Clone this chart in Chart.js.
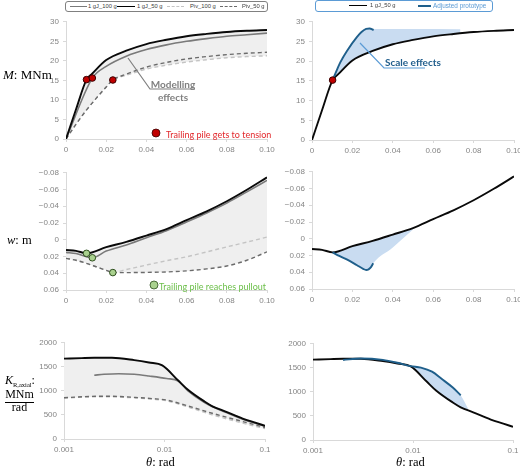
<!DOCTYPE html>
<html>
<head>
<meta charset="utf-8">
<script src="https://cdn.jsdelivr.net/npm/chart.js@4.4.1/dist/chart.umd.min.js"></script>
<style>
  body { margin: 0; width: 520px; height: 468px; overflow: hidden; background: #fff; position: relative; }
  .panel { position: absolute; }
  .t { position: absolute; white-space: nowrap; line-height: 1; }
  .serif { font-family: "Liberation Serif", "Times New Roman", serif; color: #000; }
  .lg { position: absolute; border-radius: 3px; box-sizing: border-box; background: #fff; z-index: 3; }
  .lg span { position: absolute; font-family: "Liberation Sans", Arial, sans-serif; color: #404040; top: 50%; transform: translateY(-50%); white-space: nowrap; line-height: 1; }
  .lg i { position: absolute; height: 0; top: 50%; margin-top: -1px; }
  .over { position: absolute; z-index: 4; }
</style>
</head>
<body>

<!-- legends -->
<div class="lg" style="left:65px;top:1px;width:203px;height:11px;border:1.3px solid #808080;">
  <i style="left:4px;width:17px;border-top:1.5px solid #7a7a7a"></i><span style="left:22px;font-size:5.8px">1 gJ_100 g</span>
  <i style="left:51px;width:18px;border-top:1.6px solid #000"></i><span style="left:71px;font-size:5.8px">1 gJ_50 g</span>
  <i style="left:101px;width:17px;border-top:1.5px dashed #c4c4c4"></i><span style="left:124px;font-size:5.8px">Piv_100 g</span>
  <i style="left:154px;width:17px;border-top:1.5px dashed #6b6b6b"></i><span style="left:176px;font-size:5.8px">Piv_50 g</span>
</div>
<div class="lg" style="left:315px;top:0px;width:178px;height:12px;border:1.3px solid #5b9bd5;">
  <i style="left:33px;width:18px;border-top:1.6px solid #000"></i><span style="left:54px;font-size:5.8px">1 gJ_50 g</span>
  <i style="left:102px;width:13px;border-top:2px solid #1f5f8b"></i><span style="left:117px;font-size:6.4px;color:#5b9bd5">Adjusted prototype</span>
</div>

<!-- axis titles -->
<div class="t serif over" style="left:3px;top:68px;font-size:13px"><i>M</i>: MNm</div>
<div class="t serif over" style="left:7px;top:234px;font-size:12.5px"><i>w</i>: m</div>
<div class="t serif over" style="left:5px;top:374px;font-size:12px"><i>K</i><sub style="font-size:6.5px">R,axial</sub>:</div>
<div class="t serif over" style="left:5px;top:388px;width:29px;text-align:center;font-size:12px;padding-bottom:2px;border-bottom:1px solid #000">MNm</div>
<div class="t serif over" style="left:5px;top:401px;width:29px;text-align:center;font-size:12px">rad</div>
<div class="t serif over" style="left:146px;top:456px;font-size:12.5px"><i>θ</i>: rad</div>
<div class="t serif over" style="left:396px;top:456px;font-size:12.5px"><i>θ</i>: rad</div>

<!-- annotations -->
<svg class="over" width="520" height="468" style="left:0;top:0;pointer-events:none">
  <polyline points="128,58 150,89 195,89" fill="none" stroke="#808080" stroke-width="1.2"/>
  <polyline points="360,43 384,68 425,68" fill="none" stroke="#5b9bd5" stroke-width="1.2"/>
  <circle cx="156" cy="133" r="4" fill="#c00000" stroke="#3a0000" stroke-width="0.8"/>
  <circle cx="154" cy="285" r="4" fill="#a9d18e" stroke="#2f4f1f" stroke-width="0.8"/>
</svg>
<div class="t over" style="left:173px;top:78px;transform:translateX(-50%);text-align:center;font:bold 10px Lato, sans-serif;line-height:13px;color:#7f7f7f">Modelling<br>effects</div>
<div class="t over" style="left:385px;top:56px;font:bold 10px Lato, sans-serif;color:#215e8c">Scale effects</div>
<div class="t over" style="left:166px;top:128.5px;font:9px Lato, sans-serif;color:#e2282c">Trailing pile gets to tension</div>
<div class="t over" style="left:159px;top:280.5px;font:9px Lato, sans-serif;color:#6cbf4a">Trailing pile reaches pullout</div>

<script>
// ---- tick values ----
const thetaTicks = [0, 0.02, 0.04, 0.06, 0.08, 0.1];
const thetaLogTicks = [0.001, 0.01, 0.1];
const mTicks = [0, 5, 10, 15, 20, 25, 30];
const wTicks = [-0.08, -0.06, -0.04, -0.02, 0, 0.02, 0.04, 0.06];
const kTicks = [0, 500, 1000, 1500, 2000];

// ---- M: MNm vs theta ----
const thM_50 = [0, 0.005, 0.0102, 0.013, 0.02, 0.03, 0.04, 0.05, 0.06, 0.07, 0.08, 0.09, 0.1];
const M_50 = [0, 7.6, 15.2, 16.7, 20.2, 22.6, 24.3, 25.4, 26.3, 26.9, 27.4, 27.7, 27.9];
const thM_100 = [0, 0.0131, 0.02, 0.03, 0.04, 0.05, 0.06, 0.07, 0.08, 0.09, 0.1];
const M_100 = [0, 15.6, 18.6, 21.2, 22.9, 24.1, 25.0, 25.7, 26.3, 26.7, 27.1];
const thM_piv = [0, 0.005, 0.01, 0.015, 0.02, 0.0233, 0.03, 0.04, 0.05, 0.06, 0.07, 0.08, 0.09, 0.1];
const M_piv50 = [0, 3.8, 7.3, 10.4, 13.3, 15.1, 16.6, 18.4, 19.6, 20.5, 21.1, 21.6, 21.95, 22.2];
const M_piv100 = [0, 3.8, 7.3, 10.4, 13.3, 15.1, 16.3, 17.9, 18.9, 19.7, 20.3, 20.8, 21.1, 21.3];
const thM_adj = [0.0102, 0.0125, 0.014, 0.0173, 0.0222, 0.0245, 0.0268, 0.0285, 0.0305];
const M_adj = [15.2, 18.0, 19.7, 22.6, 26.1, 27.4, 28.2, 28.3, 27.9];
const thM_edge = [0.05, 0.0735];
const M_edge = [28.15, 28.1];

// ---- w: m vs theta ----
const thW_50 = [0, 0.005, 0.0102, 0.02, 0.03, 0.04, 0.05, 0.06, 0.07, 0.08, 0.09, 0.1];
const W_50 = [0.0122, 0.0132, 0.0162, 0.0088, 0.0025, -0.005, -0.0128, -0.0235, -0.034, -0.046, -0.0597, -0.0745];
const thW_100 = [0, 0.005, 0.0131, 0.02, 0.03, 0.04, 0.05, 0.06, 0.07, 0.08, 0.09, 0.1];
const W_100 = [0.0151, 0.0165, 0.0215, 0.0135, 0.0062, -0.0025, -0.0108, -0.0212, -0.032, -0.0438, -0.0572, -0.071];
const thW_piv = [0, 0.005, 0.01, 0.015, 0.02, 0.0233, 0.03, 0.04, 0.05, 0.06, 0.07, 0.08, 0.09, 0.1];
const W_piv50 = [0.0222, 0.0245, 0.028, 0.0322, 0.0365, 0.0392, 0.0392, 0.039, 0.0384, 0.0372, 0.0348, 0.0313, 0.0245, 0.0144];
const W_piv100 = [0.0222, 0.0245, 0.028, 0.0322, 0.0365, 0.0392, 0.0356, 0.0302, 0.025, 0.0203, 0.0145, 0.0085, 0.0028, -0.0033];
const thW_adj = [0.0102, 0.0135, 0.0172, 0.0221, 0.0255, 0.0268, 0.028, 0.0293, 0.0303];
const W_adj = [0.0162, 0.0205, 0.0246, 0.0313, 0.0362, 0.0373, 0.0365, 0.0335, 0.0293];
const thW_edge = [0.04, 0.05];
const W_edge = [0.0105, -0.011];

// ---- K_R,axial: MNm/rad vs theta (log) ----
const thK_50 = [0.001, 0.0015, 0.002, 0.003, 0.005, 0.007, 0.0095, 0.0137, 0.017, 0.025, 0.03, 0.04, 0.06, 0.08, 0.1];
const K_50 = [1670, 1682, 1688, 1688, 1640, 1590, 1530, 1215, 1030, 780, 680, 575, 425, 340, 275];
const thK_100 = [0.002, 0.0025, 0.0035, 0.005, 0.007, 0.0105, 0.0137, 0.017, 0.025, 0.04, 0.06, 0.08, 0.1];
const K_100 = [1326, 1345, 1358, 1345, 1310, 1258, 1205, 1005, 760, 560, 413, 328, 262];
const thK_piv = [0.001, 0.0015, 0.0023, 0.0035, 0.005, 0.0075, 0.0105, 0.0171, 0.0298, 0.06, 0.1];
const K_piv50 = [858, 878, 890, 885, 866, 840, 810, 687, 536, 363, 240];
const K_piv100 = [850, 868, 878, 872, 855, 828, 795, 665, 505, 330, 215];
const thK_adj = [0.002, 0.003, 0.005, 0.007, 0.0095, 0.012, 0.0155, 0.0193, 0.025, 0.03];
const K_adj = [1664, 1695, 1665, 1605, 1535, 1505, 1420, 1272, 1090, 928];
const thK_edge = [0.0355];
const K_edge = [653];

// ---- markers ----
const tensionTh = [0.0102, 0.0131, 0.0233];
const tensionM = [15.2, 15.6, 15.1];
const pulloutW = [0.0162, 0.0215, 0.0392];

// colours
const BLACK = '#0a0a0a', GREY = '#7a7a7a', PIV100 = '#c4c4c4', PIV50 = '#6b6b6b', BLUE = '#1f5f8b';
const GREY_FILL = '#efefef', BLUE_FILL = '#c9dcf1';

Chart.defaults.font.family = '"Liberation Sans", Arial, sans-serif';

function pts(xs, ys) {
    return xs.map((x, i) => ({x: x, y: ys[i]}));
}

function line(xs, ys, color, width, dash) {
    return {
        data: pts(xs, ys),
        borderColor: color,
        borderWidth: width,
        borderDash: dash || [],
        pointRadius: 0,
        cubicInterpolationMode: 'monotone',
        fill: false
    };
}

function dots(xs, ys, fill, stroke) {
    return {
        data: pts(xs, ys),
        showLine: false,
        pointRadius: 3.3,
        pointBackgroundColor: fill,
        pointBorderColor: stroke,
        pointBorderWidth: 1
    };
}

// invisible line used only as the edge of a shaded band
function band(xs, ys, target, color) {
    return {
        data: pts(xs, ys),
        borderColor: 'rgba(0,0,0,0)',
        borderWidth: 0,
        pointRadius: 0,
        cubicInterpolationMode: 'monotone',
        backgroundColor: color,
        fill: {target: target, above: color, below: color}
    };
}

const tickFont = {size: 8};
function axisBase() {
    return {
        border: {color: '#d9d9d9', width: 1},
        grid: {drawOnChartArea: false, drawTicks: true, tickLength: 3, color: '#d9d9d9'},
        ticks: {color: '#858585', font: tickFont, autoSkip: false, maxRotation: 0, padding: 3}
    };
}

function fixedTicks(list) {
    return scale => { scale.ticks = list.map(v => ({value: v})); };
}

function xLinear() {
    const a = axisBase();
    a.type = 'linear'; a.min = 0; a.max = 0.1;
    a.afterBuildTicks = fixedTicks(thetaTicks);
    a.ticks.callback = v => v === 0 ? '0' : v.toFixed(2);
    return a;
}

function xLog() {
    const a = axisBase();
    a.type = 'logarithmic'; a.min = 0.001; a.max = 0.1;
    a.afterBuildTicks = fixedTicks(thetaLogTicks);
    a.ticks.callback = v => String(v);
    return a;
}

function yAxis(min, max, list, fmt, reverse) {
    const a = axisBase();
    a.type = 'linear'; a.min = min; a.max = max; a.reverse = !!reverse;
    a.afterBuildTicks = fixedTicks(list);
    a.ticks.callback = fmt;
    a.ticks.padding = 4;
    return a;
}

const fmtInt = v => String(v);
const fmtW = v => {
    const r = Math.round(v * 100) / 100;
    if (r === 0) return '0';
    return (r < 0 ? '\u2212' : '') + Math.abs(r).toFixed(2);
};

function panel(rect, xs, ys, datasets) {
    const L = Math.round(rect.L), T = Math.round(rect.T), R = Math.round(rect.R), B = Math.round(rect.B);
    const padRight = 14;
    const div = document.createElement('div');
    div.className = 'panel';
    div.style.left = (L - 40) + 'px';
    div.style.top = (T - 8) + 'px';
    div.style.width = (R - L + 40 + padRight) + 'px';
    div.style.height = (B - T + 8 + 18) + 'px';
    const canvas = document.createElement('canvas');
    div.appendChild(canvas);
    document.body.appendChild(div);

    xs.afterFit = s => { s.height = 18; };
    ys.afterFit = s => { s.width = 40; };

    new Chart(canvas, {
        type: 'line',
        data: {datasets: datasets},
        options: {
            responsive: true,
            maintainAspectRatio: false,
            animation: false,
            layout: {autoPadding: false, padding: {top: 8, right: padRight, left: 0, bottom: 0}},
            plugins: {
                legend: {display: false},
                tooltip: {enabled: false},
                filler: {drawTime: 'beforeDatasetsDraw'}
            },
            scales: {x: xs, y: ys}
        }
    });
}

// top left: M, modelling effects
const blackM = line(thM_50, M_50, BLACK, 1.9);
blackM.backgroundColor = GREY_FILL;
blackM.fill = {target: 4, above: GREY_FILL, below: GREY_FILL};
panel({L: 66, T: 21, R: 267, B: 139}, xLinear(), yAxis(0, 30, mTicks, fmtInt), [
    dots(tensionTh, tensionM, '#c00000', '#3a0000'),
    blackM,
    line(thM_100, M_100, GREY, 1.6),
    line(thM_piv, M_piv50, PIV50, 1.4, [4, 3]),
    line(thM_piv, M_piv100, PIV100, 1.4, [4, 3])
]);

// top right: M, scale effects
panel({L: 312, T: 21, R: 514, B: 140}, xLinear(), yAxis(0, 30, mTicks, fmtInt), [
    dots(tensionTh.slice(0, 1), tensionM.slice(0, 1), '#c00000', '#3a0000'),
    line(thM_adj, M_adj, BLUE, 1.9),
    line(thM_50, M_50, BLACK, 1.9),
    band(thM_adj.slice(0, 7).concat(thM_edge), M_adj.slice(0, 7).concat(M_edge), 2, BLUE_FILL)
]);

// middle left: w, modelling effects
const blackW = line(thW_50, W_50, BLACK, 1.9);
blackW.backgroundColor = GREY_FILL;
blackW.fill = {target: 3, above: GREY_FILL, below: GREY_FILL};
panel({L: 66, T: 172, R: 267, B: 290}, xLinear(), yAxis(-0.08, 0.06, wTicks, fmtW, true), [
    dots(tensionTh, pulloutW, '#a9d18e', '#2f4f1f'),
    blackW,
    line(thW_100, W_100, GREY, 1.6),
    line(thW_piv, W_piv50, PIV50, 1.4, [4, 3]),
    line(thW_piv, W_piv100, PIV100, 1.4, [4, 3])
]);

// middle right: w, scale effects
panel({L: 312, T: 171, R: 514, B: 289}, xLinear(), yAxis(-0.08, 0.06, wTicks, fmtW, true), [
    line(thW_adj, W_adj, BLUE, 1.9),
    line(thW_50, W_50, BLACK, 1.9),
    band(thW_adj.concat(thW_edge), W_adj.concat(W_edge), 1, BLUE_FILL)
]);

// bottom left: K, modelling effects
const blackK = line(thK_50, K_50, BLACK, 1.9);
blackK.backgroundColor = GREY_FILL;
blackK.fill = {target: 3, above: GREY_FILL, below: GREY_FILL};
panel({L: 64, T: 342, R: 265, B: 439}, xLog(), yAxis(0, 2000, kTicks, fmtInt), [
    blackK,
    line(thK_100, K_100, GREY, 1.6),
    line(thK_piv, K_piv50, PIV50, 1.4, [4, 3]),
    line(thK_piv, K_piv100, PIV100, 1.4, [4, 3])
]);

// bottom right: K, scale effects
panel({L: 313, T: 343, R: 513, B: 440}, xLog(), yAxis(0, 2000, kTicks, fmtInt), [
    line(thK_adj, K_adj, BLUE, 1.9),
    line(thK_50, K_50, BLACK, 1.9),
    band(thK_adj.concat(thK_edge), K_adj.concat(K_edge), 1, BLUE_FILL)
]);
</script>
</body>
</html>
